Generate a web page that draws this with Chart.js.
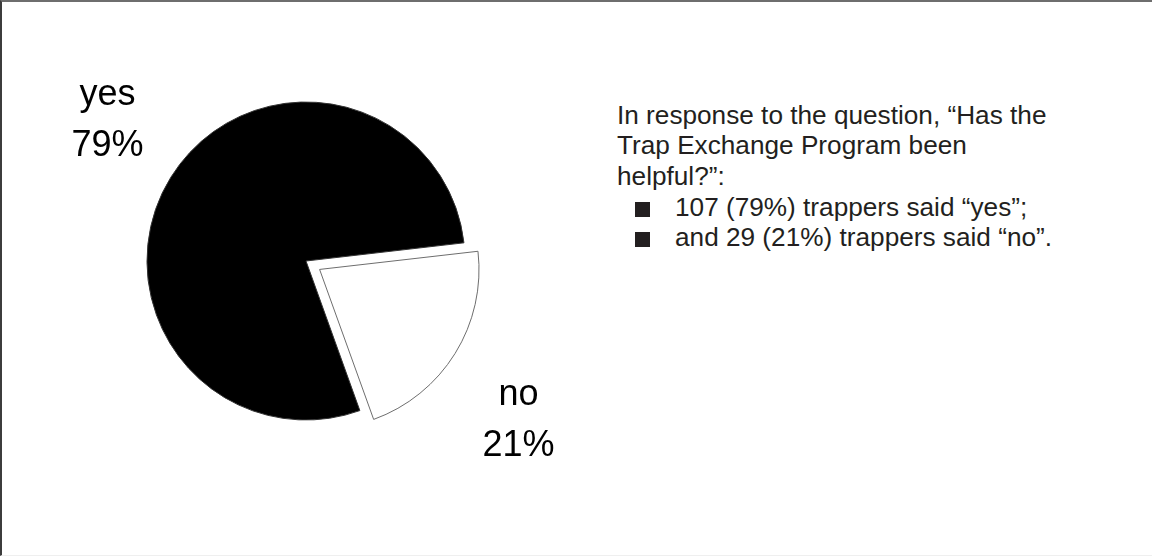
<!DOCTYPE html>
<html>
<head>
<meta charset="utf-8">
<script src="https://cdn.jsdelivr.net/npm/chart.js@4"></script>
<style>
  html, body { margin: 0; padding: 0; }
  body {
    width: 1152px; height: 556px; position: relative; overflow: hidden;
    background: #fff; font-family: "Liberation Sans", Arial, sans-serif;
    box-sizing: border-box;
    border-top: 2px solid #6e6e6e; border-left: 2px solid #3c3c3c;
    border-bottom: 1px solid #efefef;
  }
  #pieBox { position: absolute; left: 104px; top: 59px; width: 400px; height: 400px; }
  .pieLabel {
    position: absolute; width: 200px; text-align: center;
    font-size: 36px; color: #000;
  }
  #yesLabel { left: 5.5px; top: 65px; line-height: 51px; }
  #noLabel { left: 416.5px; top: 366px; line-height: 50.5px; }
  #note {
    position: absolute; left: 615px; top: 97.6px;
    font-size: 26.2px; line-height: 30.7px; color: #231f20;
    width: 520px;
  }
  #note .item { padding-left: 18px; white-space: nowrap; }
  #note .sq {
    display: inline-block; width: 15px; height: 15px; background: #231f20;
    margin-right: 25px; vertical-align: -1px;
  }
</style>
</head>
<body>
<div id="pieBox"><canvas id="pie" width="400" height="400"></canvas></div>
<div id="yesLabel" class="pieLabel"></div>
<div id="noLabel" class="pieLabel"></div>
<div id="note"></div>

<script>
// survey answers
const categories = ["yes", "no"]
const counts = [107, 29]
const sliceColors = ["#000000", "#ffffff"]
const sliceBorders = ["#333333", "#6d6d6d"]
const sliceOffsets = [0, 64] // chart.js moves the arc by offset / 4 -> 16px

const total = counts.reduce((a, b) => a + b, 0)
const percents = counts.map(c => Math.round((c / total) * 100))

document.getElementById("yesLabel").innerHTML = categories[0] + "<br>" + percents[0] + "%"
document.getElementById("noLabel").innerHTML = categories[1] + "<br>" + percents[1] + "%"

document.getElementById("note").innerHTML =
  "In response to the question, \u201cHas the<br>Trap Exchange Program been<br>helpful?\u201d:" +
  '<div class="item"><span class="sq"></span>' + counts[0] + " (" + percents[0] + "%) trappers said \u201c" + categories[0] + "\u201d;</div>" +
  '<div class="item"><span class="sq"></span>and ' + counts[1] + " (" + percents[1] + "%) trappers said \u201c" + categories[1] + "\u201d.</div>"

const ctx = document.getElementById("pie").getContext("2d")
new Chart(ctx, {
  type: "pie",
  data: {
    labels: categories,
    datasets: [
      {
        data: counts,
        backgroundColor: sliceColors,
        borderColor: sliceBorders,
        borderWidth: 1,
        offset: sliceOffsets,
        hoverOffset: 0,
        radius: 159,
      },
    ],
  },
  options: {
    responsive: false,
    animation: false,
    events: [],
    rotation: 160.2, // "no" slice starts just above 3 o'clock
    plugins: {
      legend: { display: false },
      tooltip: { enabled: false },
    },
  },
})
</script>
</body>
</html>
